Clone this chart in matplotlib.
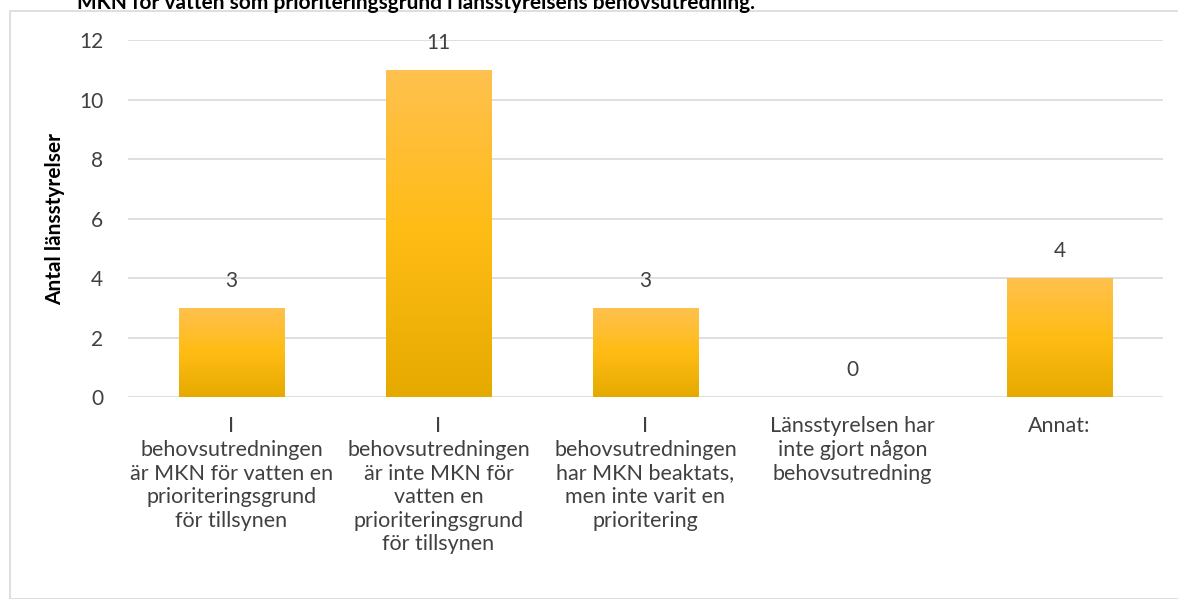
import matplotlib.pyplot as plt
import numpy as np
from matplotlib.colors import LinearSegmentedColormap
from matplotlib.patches import Rectangle

plt.rcParams['font.family'] = ['Lato', 'DejaVu Sans']

kategorier = [
    "I\nbehovsutredningen\när MKN för vatten en\nprioriteringsgrund\nför tillsynen",
    "I\nbehovsutredningen\när inte MKN för\nvatten en\nprioriteringsgrund\nför tillsynen",
    "I\nbehovsutredningen\nhar MKN beaktats,\nmen inte varit en\nprioritering",
    "Länsstyrelsen har\ninte gjort någon\nbehovsutredning",
    "Annat:",
]
antal = [3, 11, 3, 0, 4]
rubrik = "MKN för vatten som prioriteringsgrund i länsstyrelsens behovsutredning."

fig = plt.figure(figsize=(11.78, 5.99), dpi=100)
ax = fig.add_axes([0.1087, 0.3372, 0.8785, 0.596])

# ram runt diagrammet
fig.patches.append(Rectangle((10 / 1178, 0), 1.0, 1 - 11 / 599, transform=fig.transFigure,
                             fill=False, edgecolor='#D9D9D9', linewidth=1.2))
fig.text(0.065, 1 - 3 / 599, rubrik, fontsize=15, fontweight='bold', color='#000000',
         ha='left', va='center')

x = np.arange(len(antal))
staplar = ax.bar(x, antal, width=0.51, color='none', zorder=3)

# gradient i staplarna
gradient = LinearSegmentedColormap.from_list('gul', ['#E5AA00', '#FFBC14', '#FFC14F'])
for rect in staplar:
    if rect.get_height() == 0:
        continue
    x0, w, h = rect.get_x(), rect.get_width(), rect.get_height()
    bild = np.linspace(0, 1, 256).reshape(-1, 1)
    im = ax.imshow(bild, cmap=gradient, origin='lower', aspect='auto',
                   extent=[x0, x0 + w, 0, h], zorder=3)
    im.set_clip_path(rect)

for xi, v in zip(x, antal):
    ax.annotate(str(v), (xi, v), xytext=(0, 12), textcoords='offset points',
                ha='center', va='bottom', fontsize=15, color='#404040')

ax.set_xlim(-0.5, len(antal) - 0.5)
ax.set_ylim(0, 12)
ax.set_yticks(np.arange(0, 13, 2))
ax.set_xticks(x)
ax.set_xticklabels(kategorier, fontsize=15.5, color='#404040', linespacing=1.22)
ax.tick_params(axis='x', length=0, pad=14)
ax.tick_params(axis='y', length=0, pad=18, labelsize=15, labelcolor='#404040')
ax.grid(axis='y', color='#D9D9D9', linewidth=1.2, zorder=0)
for s in ['top', 'right', 'left', 'bottom']:
    ax.spines[s].set_visible(False)
ax.set_ylabel("Antal länsstyrelser", fontsize=15, fontweight='bold', color='#000000', labelpad=10)

fig.savefig("out.png", dpi=100)
